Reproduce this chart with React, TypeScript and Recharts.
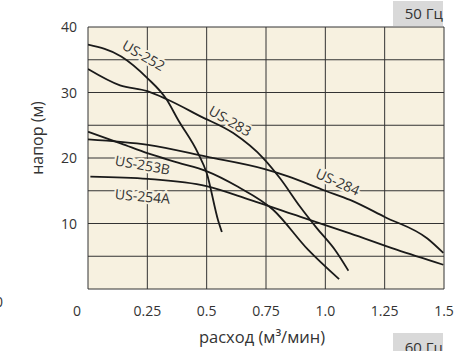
import React from "react";
import {
  LineChart,
  Line,
  XAxis,
  YAxis,
  CartesianGrid,
  ReferenceDot,
} from "recharts";

// flow (m3/min) -> head (m)
const us252 = [
  { x: 0, y: 37.3 },
  { x: 0.14, y: 35.5 },
  { x: 0.25, y: 32.2 },
  { x: 0.33, y: 29.0 },
  { x: 0.38, y: 25.8 },
  { x: 0.464, y: 20.7 },
  { x: 0.5, y: 17.7 },
  { x: 0.548, y: 10.5 },
  { x: 0.564, y: 8.7 },
];
const us283 = [
  { x: 0, y: 33.6 },
  { x: 0.135, y: 31.1 },
  { x: 0.25, y: 30.2 },
  { x: 0.33, y: 29.0 },
  { x: 0.472, y: 26.4 },
  { x: 0.612, y: 23.8 },
  { x: 0.739, y: 19.95 },
  { x: 0.809, y: 16.9 },
  { x: 0.893, y: 12.6 },
  { x: 0.964, y: 9.3 },
  { x: 1.041, y: 5.95 },
  { x: 1.097, y: 2.8 },
];
const us253b = [
  { x: 0, y: 24.0 },
  { x: 0.14, y: 22.2 },
  { x: 0.253, y: 20.7 },
  { x: 0.379, y: 19.3 },
  { x: 0.499, y: 18.0 },
  { x: 0.632, y: 15.6 },
  { x: 0.78, y: 12.1 },
  { x: 0.927, y: 6.0 },
  { x: 1.058, y: 1.5 },
];
const us284 = [
  { x: 0, y: 22.85 },
  { x: 0.253, y: 22.0 },
  { x: 0.499, y: 20.2 },
  { x: 0.745, y: 18.3 },
  { x: 0.843, y: 17.2 },
  { x: 1.0, y: 15.0 },
  { x: 1.104, y: 13.6 },
  { x: 1.25, y: 11.0 },
  { x: 1.43, y: 7.7 },
  { x: 1.497, y: 5.5 },
];
const us254a = [
  { x: 0.01, y: 17.15 },
  { x: 0.253, y: 16.8 },
  { x: 0.499, y: 15.7 },
  { x: 0.683, y: 13.6 },
  { x: 0.893, y: 11.05 },
  { x: 1.104, y: 8.5 },
  { x: 1.3, y: 6.0 },
  { x: 1.497, y: 3.7 },
];

const series = [us252, us283, us253b, us284, us254a];

// curve name, position, angle
const curveLabels = [
  { name: "US-252", x: 0.235, y: 35.7, angle: 30 },
  { name: "US-283", x: 0.6, y: 25.7, angle: 30 },
  { name: "US-284", x: 1.053, y: 16.4, angle: 24 },
  { name: "US-253B", x: 0.23, y: 19.0, angle: 10 },
  { name: "US-254A", x: 0.23, y: 14.2, angle: 5 },
];

const xTicks = [0, 0.25, 0.5, 0.75, 1.0, 1.25, 1.5];
const xTickLabels = ["0", "0.25", "0.5", "0.75", "1.0", "1.25", "1.5"];
const yTicks = [0, 5, 10, 15, 20, 25, 30, 35, 40];
const yTickShown = [10, 20, 30, 40];

const FONT = "'Open Sans', 'Noto Sans', sans-serif";
const TXT = "#333";
const BG = "#f7f1e0";

const XTick = (props: any) => {
  const { x, y, payload } = props;
  const i = xTicks.indexOf(payload.value);
  const dx = payload.value === 0 ? -11 : 0;
  return (
    <text
      x={x + dx}
      y={y + 19}
      textAnchor="middle"
      fill={TXT}
      fontSize={14}
      fontFamily={FONT}
    >
      {xTickLabels[i]}
    </text>
  );
};

const YTick = (props: any) => {
  const { x, y, payload } = props;
  if (!yTickShown.includes(payload.value)) return <g />;
  return (
    <text
      x={x - 3}
      y={y + 5}
      textAnchor="end"
      fill={TXT}
      fontSize={14}
      fontFamily={FONT}
    >
      {payload.value}
    </text>
  );
};

const CurveLabel = (name: string, angle: number) => (props: any) => {
  const { cx, cy } = props;
  return (
    <text
      x={cx}
      y={cy}
      transform={`rotate(${angle} ${cx} ${cy})`}
      textAnchor="middle"
      dominantBaseline="central"
      fill={TXT}
      fontSize={14}
      fontFamily={FONT}
      stroke={BG}
      strokeWidth={4}
      paintOrder="stroke"
    >
      {name}
    </text>
  );
};

export default function App() {
  return (
    <div
      style={{
        position: "absolute",
        left: 0,
        top: 0,
        width: 455,
        height: 351,
        overflow: "hidden",
        background: "#fff",
        fontFamily: FONT,
      }}
    >
      <LineChart
        width={455}
        height={351}
        margin={{ top: 27, right: 11, bottom: 32, left: 58 }}
      >
        <CartesianGrid fill={BG} stroke="#333" strokeWidth={1} />
        <XAxis
          type="number"
          dataKey="x"
          domain={[0, 1.5]}
          ticks={xTicks}
          tick={<XTick />}
          tickLine={false}
          axisLine={false}
          height={30}
          allowDataOverflow
        />
        <YAxis
          type="number"
          dataKey="y"
          domain={[0, 40]}
          ticks={yTicks}
          tick={<YTick />}
          tickLine={false}
          axisLine={false}
          width={30}
          interval={0}
        />
        {series.map((d, i) => (
          <Line
            key={i}
            data={d}
            dataKey="y"
            type="monotone"
            stroke="#1a1a1a"
            strokeWidth={1.8}
            dot={false}
            isAnimationActive={false}
          />
        ))}
        {curveLabels.map((l) => (
          <ReferenceDot
            key={l.name}
            x={l.x}
            y={l.y}
            r={0}
            shape={CurveLabel(l.name, l.angle)}
          />
        ))}
      </LineChart>

      <div
        style={{
          position: "absolute",
          left: 393,
          top: 1,
          width: 50,
          height: 25,
          background: "#d9d9d9",
          color: TXT,
          fontSize: 15,
          lineHeight: "25px",
          textAlign: "right",
        }}
      >
        50 Гц
      </div>
      <div
        style={{
          position: "absolute",
          left: 393,
          top: 333,
          width: 50,
          height: 25,
          background: "#d9d9d9",
          color: TXT,
          fontSize: 15,
          lineHeight: "25px",
          textAlign: "right",
          paddingTop: 2,
        }}
      >
        60 Гц
      </div>
      <div
        style={{
          position: "absolute",
          left: -5,
          top: 292,
          color: TXT,
          fontSize: 14,
        }}
      >
        0
      </div>
      <div
        style={{
          position: "absolute",
          left: 37,
          top: 138,
          transform: "translate(-50%, -50%) rotate(-90deg)",
          whiteSpace: "nowrap",
          color: TXT,
          fontSize: 16,
        }}
      >
        напор (м)
      </div>
      <div
        style={{
          position: "absolute",
          left: 262,
          top: 336,
          transform: "translate(-50%, -50%)",
          whiteSpace: "nowrap",
          color: TXT,
          fontSize: 16.5,
        }}
      >
        расход (м³/мин)
      </div>
    </div>
  );
}
